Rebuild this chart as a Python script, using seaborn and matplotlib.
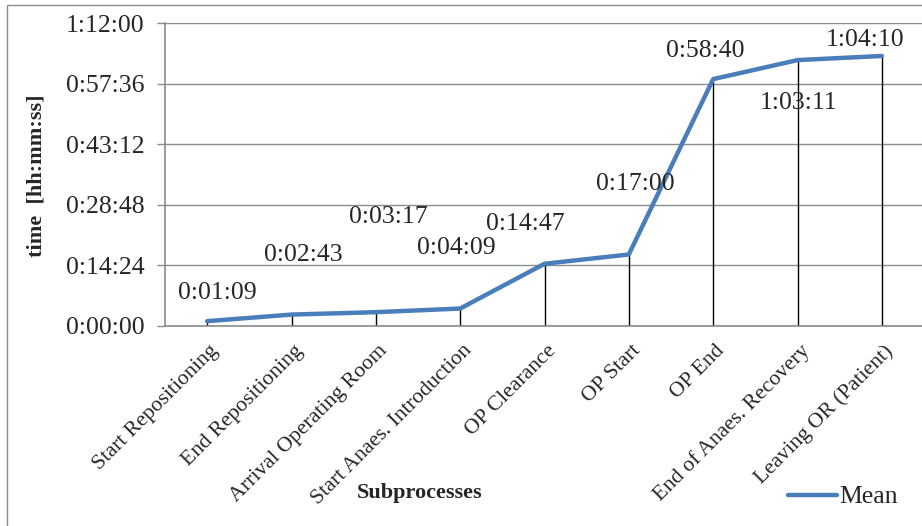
import matplotlib
matplotlib.use("Agg")
import matplotlib.pyplot as plt
import seaborn as sns
import pandas as pd
import numpy as np
from matplotlib.ticker import FuncFormatter
from matplotlib.patches import Rectangle
from matplotlib.transforms import ScaledTranslation

categories = ["Start Repositioning", "End Repositioning", "Arrival Operating Room",
              "Start Anaes. Introduction", "OP Clearance", "OP Start", "OP End",
              "End of Anaes. Recovery", "Leaving OR (Patient)"]
labels = ["0:01:09", "0:02:43", "0:03:17", "0:04:09", "0:14:47", "0:17:00",
          "0:58:40", "1:03:11", "1:04:10"]
mean_seconds = [69, 163, 197, 249, 887, 1020, 3520, 3791, 3850]
yticks_seconds = [0, 864, 1728, 2592, 3456, 4320]

# label offsets in pixels (dx, dy)
label_offsets = [(10, 28), (12, 60), (12, 95), (-4, 61), (-19, 40), (6, 70),
                 (-8, 28), (1, -43), (-17, 16)]

sns.set_theme(style="white")
plt.rcParams['font.family'] = ['Liberation Serif', 'DejaVu Serif']

W, H = 922, 526
fig = plt.figure(figsize=(W / 100, H / 100), dpi=100)
ax = fig.add_axes([165 / W, 1 - 326 / H, (924 - 165) / W, (326 - 23) / H])

# outer chart border
fig.patches.append(Rectangle((7 / W, -0.1), 1.2, 1 - 5 / H + 0.1, transform=fig.transFigure,
                             fill=False, edgecolor="#8c8c8c", linewidth=1.0))

df = pd.DataFrame({"pos": np.arange(len(categories)), "Mean": mean_seconds})

ax.vlines(df["pos"], 0, df["Mean"], colors="black", linewidth=1.0, zorder=2)
sns.lineplot(data=df, x="pos", y="Mean", ax=ax, color="#4a7ebb", linewidth=3.2,
             label="Mean", zorder=3)

ax.set_xlim(-0.5, len(categories) - 0.5)
ax.set_ylim(0, 4320)
ax.set_yticks(yticks_seconds)

def fmt(v, pos):
    v = int(round(v))
    return f"{v // 3600}:{(v % 3600) // 60:02d}:{v % 60:02d}"

ax.yaxis.set_major_formatter(FuncFormatter(fmt))
ax.set_xticks(df["pos"])
ax.set_xticklabels(categories, rotation=45, ha="right", rotation_mode="anchor",
                   fontsize=15.7)
ax.tick_params(axis="x", length=0, pad=11)
shift = ScaledTranslation(2 / 100, 0, fig.dpi_scale_trans)
for t in ax.get_xticklabels():
    t.set_transform(t.get_transform() + shift)
ax.tick_params(axis="y", labelsize=18.5, length=6, width=1, color="#8c8c8c",
               direction="out", left=True, pad=9)
ax.grid(axis="y", color="#8c8c8c", linewidth=1.0)
ax.set_axisbelow(True)
for s in ["top", "right"]:
    ax.spines[s].set_visible(False)
for s in ["left", "bottom"]:
    ax.spines[s].set_color("#8c8c8c")
    ax.spines[s].set_linewidth(1.2)

for i, (lab, (dx, dy)) in enumerate(zip(labels, label_offsets)):
    ax.annotate(lab, (i, mean_seconds[i]), xytext=(dx * 0.72, dy * 0.72),
                textcoords="offset points", ha="center", va="center", fontsize=18.5)

ax.set_xlabel("")
ax.set_ylabel("")
fig.text(420 / W, 1 - 493 / H, "Subprocesses", ha="center", va="center",
         fontsize=16, fontweight="bold")
fig.text(37 / W, 1 - 176 / H, "time  [hh:mm:ss]", ha="center", va="center",
         rotation=90, fontsize=16, fontweight="bold")

leg = ax.legend(loc="center", bbox_to_anchor=(843 / W, 1 - 497 / H),
                bbox_transform=fig.transFigure, frameon=False, fontsize=18.5,
                handlelength=1.9, handletextpad=0.1, borderpad=0)

fig.savefig("out.png", dpi=100)
